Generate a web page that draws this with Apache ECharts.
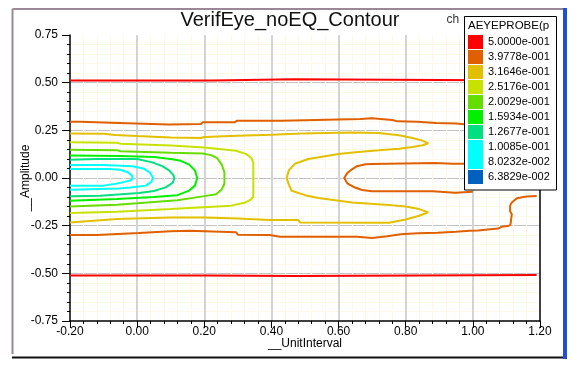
<!DOCTYPE html>
<html>
<head>
<meta charset="utf-8">
<script src="https://cdn.jsdelivr.net/npm/echarts@6/dist/echarts.min.js"></script>
<style>
html,body{margin:0;padding:0;background:#fff;}
#chart{width:571px;height:369px;}
</style>
</head>
<body>
<div id="chart"></div>
<script>
// ---- Data ----
const titleText = 'VerifEye_noEQ_Contour';
const xName = '__UnitInterval';
const yName = '__Amplitude';
const legendTitle = 'AEYEPROBE(p';
const legendLabels = ['5.0000e-001','3.9778e-001','3.1646e-001','2.5176e-001','2.0029e-001','1.5934e-001','1.2677e-001','1.0085e-001','8.0232e-002','6.3829e-002'];
const levels = [0.5, 0.39778, 0.31646, 0.25176, 0.20029, 0.15934, 0.12677, 0.10085, 0.080232, 0.063829];

// contour paths [x, y] per level
const redTop = [[-0.2,0.512],[0.224,0.512],[0.226,0.518],[0.468,0.518],[0.47,0.512],[1.19,0.512]];
const redBottom = [[-0.2,-0.511],[0.215,-0.511],[0.217,-0.514],[0.474,-0.514],[0.476,-0.509],[1.19,-0.509]];
const orangeTop = [[-0.2,0.295],[-0.17,0.295],[-0.165,0.287],[-0.03,0.287],[-0.025,0.28],[0.095,0.28],[0.1,0.283],[0.19,0.283],[0.196,0.292],[0.29,0.292],[0.297,0.3],[0.43,0.3],[0.435,0.309],[0.665,0.309],[0.67,0.314],[0.7,0.314],[0.705,0.304],[0.76,0.304],[0.775,0.297],[0.835,0.295],[0.89,0.288],[0.95,0.286],[0.955,0.28],[1.0,0.278]];
const orangeC = [[1.0,0.075],[0.94,0.075],[0.938,0.079],[0.887,0.079],[0.885,0.073],[0.7,0.073],[0.68,0.072],[0.655,0.062],[0.641,0.047],[0.626,0.026],[0.617,0.0],[0.626,-0.028],[0.645,-0.047],[0.67,-0.063],[0.7,-0.07],[0.88,-0.07],[0.882,-0.077],[0.947,-0.077],[0.95,-0.072],[1.0,-0.072]];
const orangeBottom = [[-0.2,-0.299],[-0.12,-0.299],[-0.115,-0.289],[0.005,-0.289],[0.01,-0.28],[0.1,-0.279],[0.155,-0.277],[0.16,-0.285],[0.295,-0.285],[0.3,-0.297],[0.395,-0.299],[0.426,-0.308],[0.655,-0.308],[0.66,-0.315],[0.7,-0.315],[0.705,-0.308],[0.745,-0.305],[0.75,-0.297],[0.785,-0.295],[0.835,-0.29],[0.895,-0.287],[0.95,-0.282],[0.99,-0.277],[1.015,-0.275],[1.02,-0.268],[1.075,-0.265],[1.085,-0.256],[1.105,-0.252],[1.112,-0.245],[1.116,-0.235],[1.116,-0.19],[1.111,-0.175],[1.111,-0.145],[1.116,-0.128],[1.131,-0.106],[1.16,-0.097],[1.19,-0.094]];
const yellowS = [[-0.2,0.234],[-0.1,0.232],[-0.065,0.225],[0.0,0.22],[0.1,0.213],[0.19,0.21],[0.2,0.215],[0.3,0.222],[0.4,0.227],[0.49,0.234],[0.64,0.238],[0.72,0.236],[0.78,0.224],[0.82,0.21],[0.85,0.196],[0.867,0.182],[0.85,0.172],[0.82,0.163],[0.78,0.154],[0.72,0.145],[0.65,0.135],[0.6,0.126],[0.51,0.1],[0.47,0.075],[0.452,0.04],[0.445,0.0],[0.452,-0.035],[0.46,-0.067],[0.5,-0.09],[0.54,-0.105],[0.64,-0.128],[0.75,-0.142],[0.8,-0.15],[0.84,-0.163],[0.867,-0.18],[0.84,-0.198],[0.8,-0.218],[0.75,-0.235],[0.485,-0.233],[0.48,-0.22],[0.396,-0.22],[0.3,-0.213],[0.2,-0.207],[0.1,-0.207],[-0.06,-0.215],[-0.2,-0.233]];
const yellowGreenU = [[-0.2,0.187],[-0.06,0.185],[-0.05,0.18],[0.1,0.17],[0.2,0.16],[0.295,0.143],[0.325,0.125],[0.34,0.105],[0.346,0.08],[0.346,-0.1],[0.337,-0.115],[0.32,-0.13],[0.28,-0.145],[0.1,-0.163],[-0.06,-0.177],[-0.2,-0.184]];
const greenU = [[-0.2,0.148],[-0.06,0.146],[-0.05,0.14],[0.1,0.132],[0.195,0.128],[0.22,0.12],[0.238,0.105],[0.252,0.07],[0.26,0.03],[0.26,-0.03],[0.252,-0.06],[0.235,-0.085],[0.2,-0.095],[0.12,-0.117],[0.0,-0.133],[-0.06,-0.14],[-0.2,-0.149]];
const brightGreenU = [[-0.2,0.118],[-0.05,0.116],[0.05,0.11],[0.1,0.1],[0.13,0.09],[0.155,0.07],[0.172,0.04],[0.179,0.0],[0.172,-0.04],[0.155,-0.066],[0.12,-0.09],[0.05,-0.1],[-0.06,-0.11],[-0.2,-0.119]];
const tealU = [[-0.2,0.096],[-0.12,0.1],[0.0,0.1],[0.045,0.082],[0.075,0.062],[0.095,0.04],[0.108,0.015],[0.111,0.0],[0.106,-0.025],[0.085,-0.049],[0.05,-0.068],[0.006,-0.079],[-0.11,-0.093],[-0.2,-0.096]];
const cyanOuterU = [[-0.2,0.068],[-0.103,0.068],[-0.1,0.062],[-0.014,0.062],[0.021,0.048],[0.038,0.028],[0.048,0.0],[0.042,-0.02],[0.026,-0.04],[-0.02,-0.05],[-0.055,-0.055],[-0.2,-0.061]];
const cyanInnerU = [[-0.2,0.047],[-0.084,0.047],[-0.05,0.043],[-0.028,0.03],[-0.016,0.014],[-0.013,0.0],[-0.02,-0.013],[-0.044,-0.023],[-0.063,-0.03],[-0.1,-0.04],[-0.2,-0.04]];

// ---- Styles ----
const levelColors = ['#ff0000','#e06000','#e2c000','#c8e200','#66dd00','#00f000','#00e080','#00ffff','#00ffff','#0060c0'];
const contours = [
  {pts: redTop, lvl: 0}, {pts: redBottom, lvl: 0},
  {pts: orangeTop, lvl: 1}, {pts: orangeC, lvl: 1}, {pts: orangeBottom, lvl: 1},
  {pts: yellowS, lvl: 2}, {pts: yellowGreenU, lvl: 3}, {pts: greenU, lvl: 4},
  {pts: brightGreenU, lvl: 5}, {pts: tealU, lvl: 6}, {pts: cyanOuterU, lvl: 7}, {pts: cyanInnerU, lvl: 8}
];
const FONT = '"Liberation Sans", Arial, sans-serif';

const chart = echarts.init(document.getElementById('chart'), null, {renderer: 'canvas'});

const series = contours.map(c => ({
  type: 'line', data: c.pts, symbol: 'none', silent: true, animation: false,
  lineStyle: {color: levelColors[c.lvl], width: 2}, z: 3, clip: true
}));

const graphics = [];
// outer frame
graphics.push({type:'line', shape:{x1:12.5,y1:9,x2:563,y2:9}, style:{stroke:'#988898', lineWidth:2}, z:100});
graphics.push({type:'line', shape:{x1:12.5,y1:9,x2:12.5,y2:354}, style:{stroke:'#988898', lineWidth:2}, z:100});
graphics.push({type:'line', shape:{x1:12,y1:357.5,x2:567,y2:357.5}, style:{stroke:'#111', lineWidth:2}, z:100});
graphics.push({type:'line', shape:{x1:565,y1:8,x2:565,y2:359}, style:{stroke:'#1e4fd6', lineWidth:4}, z:100});
// title
graphics.push({type:'text', z:100, style:{x:290, y:20, text:titleText, fill:'#111', font:'20px ' + FONT, textAlign:'center', textVerticalAlign:'middle', align:'center', verticalAlign:'middle'}});
graphics.push({type:'text', z:100, style:{x:446.5, y:19.5, text:'ch', fill:'#333', font:'12px ' + FONT, textAlign:'left', textVerticalAlign:'middle', align:'left', verticalAlign:'middle'}});
// legend
graphics.push({type:'rect', z:100, shape:{x:464.5, y:16.5, width:92, height:173.5}, style:{fill:'#fff', stroke:'#000', lineWidth:1}});
graphics.push({type:'text', z:101, style:{x:468, y:25.5, text:legendTitle, fill:'#000', font:'11.5px ' + FONT, textAlign:'left', textVerticalAlign:'middle', align:'left', verticalAlign:'middle'}});
legendLabels.forEach((lab, i) => {
  const h = (i === 7) ? 15 : 14;
  graphics.push({type:'rect', z:101, shape:{x:468, y:35 + 15*i, width:15, height:h}, style:{fill:levelColors[i]}});
  graphics.push({type:'text', z:101, style:{x:488, y:42 + 15*i, text:lab, fill:'#000', font:'11px ' + FONT, textAlign:'left', textVerticalAlign:'middle', align:'left', verticalAlign:'middle'}});
});

const option = {
  backgroundColor: '#fff',
  animation: false,
  grid: {left: 70, top: 35, width: 470, height: 286, containLabel: false},
  xAxis: {
    type: 'value', min: -0.2, max: 1.2, interval: 0.2,
    name: xName, nameLocation: 'middle', nameGap: 17, nameMoveOverlap: false,
    nameTextStyle: {fontSize: 12, color: '#000', fontFamily: FONT},
    axisLine: {show: true, onZero: false, lineStyle: {color: '#000', width: 1.5}},
    axisTick: {show: true, length: 7, lineStyle: {color: '#000', width: 1}},
    minorTick: {show: true, splitNumber: 5, length: 3, lineStyle: {color: '#000', width: 1}},
    axisLabel: {formatter: v => v.toFixed(2), fontSize: 12, color: '#000', fontFamily: FONT, margin: 5},
    splitLine: {show: true, showMinLine: false, showMaxLine: false, lineStyle: {color: '#d4d4d4', width: 2}},
    minorSplitLine: {show: true, lineStyle: {color: '#fcfae6', width: 1}}
  },
  yAxis: [{
    type: 'value', min: -0.75, max: 0.75, interval: 0.25,
    name: yName, nameLocation: 'middle', nameGap: 38, nameRotate: 90, nameMoveOverlap: false,
    nameTextStyle: {fontSize: 12, color: '#000', fontFamily: FONT},
    axisLine: {show: true, onZero: false, lineStyle: {color: '#000', width: 1.5}},
    axisTick: {show: true, length: 8, lineStyle: {color: '#000', width: 1}},
    minorTick: {show: true, splitNumber: 5, length: 3, lineStyle: {color: '#000', width: 1}},
    axisLabel: {formatter: v => v.toFixed(2), fontSize: 12, color: '#000', fontFamily: FONT, margin: 12},
    splitLine: {show: true, showMinLine: false, showMaxLine: false, lineStyle: {color: '#c4c4c4', width: 1}},
    minorSplitLine: {show: true, lineStyle: {color: '#fcfae6', width: 1}}
  }, {
    type: 'value', min: -0.75, max: 0.75, interval: 0.25, position: 'right',
    axisLine: {show: true, onZero: false, lineStyle: {color: '#000', width: 1.5}},
    axisTick: {show: false}, axisLabel: {show: false}, splitLine: {show: false}
  }],
  series: series,
  graphic: graphics
};
chart.setOption(option);
</script>
</body>
</html>
